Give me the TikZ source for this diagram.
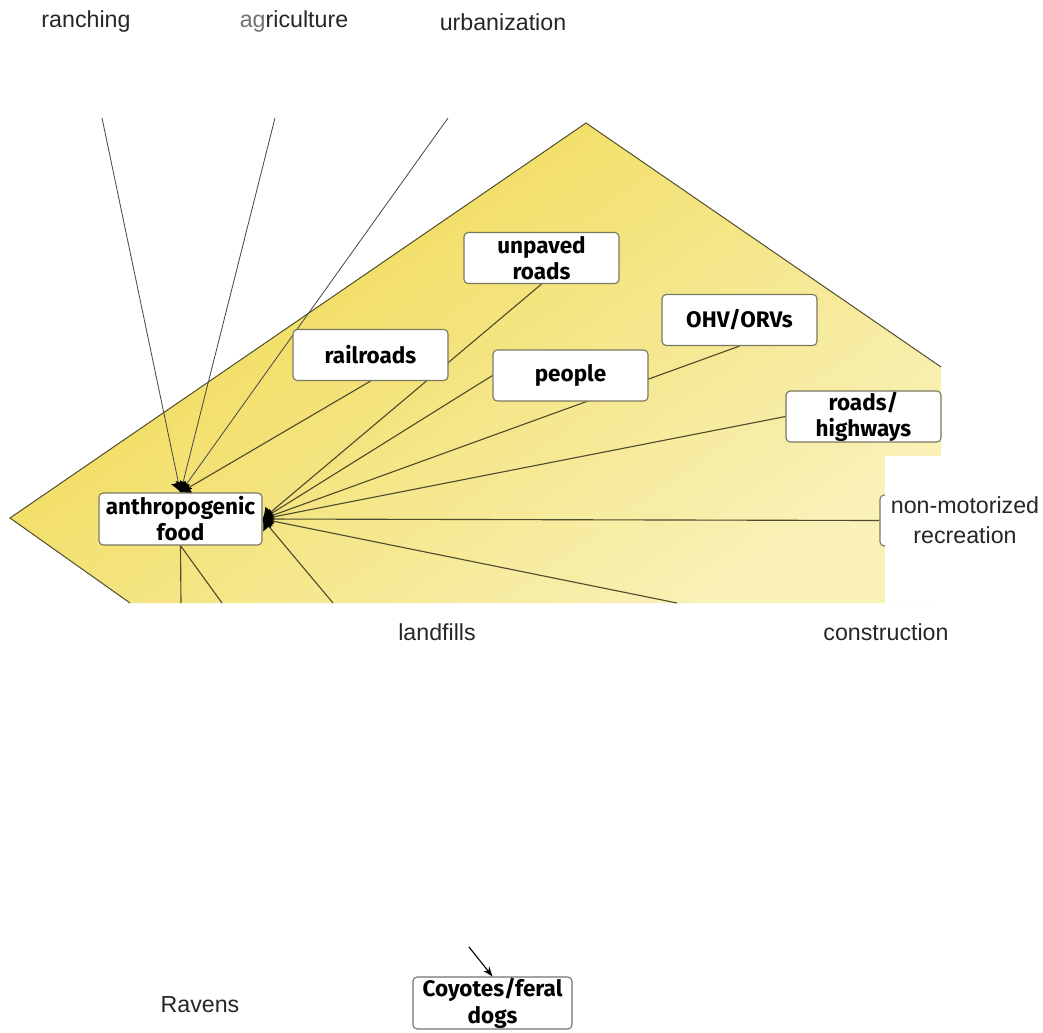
\documentclass[tikz,border=0pt]{standalone}
\usepackage{fontspec}
\setmainfont{Liberation Sans}
\newfontfamily\boxfont{Fira Sans}
\usetikzlibrary{arrows.meta, positioning, backgrounds}
\definecolor{mydeepyellow}{HTML}{F0D84A}
\definecolor{mypaleyellow}{HTML}{F9F1B8}
\definecolor{myolive}{HTML}{4F4D2C}
\definecolor{myboxline}{HTML}{7A7860}
\tikzset{
	boxnode/.style={
			rectangle,
			rounded corners=3pt,
			draw=myboxline,
			fill=white,
			thick,
			minimum width=3.875cm,
			minimum height=1.275cm,
			inner sep=0pt,
			align=center,
			font=\boxfont\bfseries\fontsize{16}{18.5}\selectfont
		},
	labelnode/.style={
			inner sep=0pt,
			align=center,
			text=black!85,
			font=\fontsize{16.5}{21}\selectfont
		},
	linkline/.style={
			draw=myolive,
			line width=0.8pt
		},
	linkarrow/.style={
			linkline,
			-{Latex[length=7pt,width=11pt,black]}
		}
}

\begin{document}
\begin{tikzpicture}[x=0.025cm, y=-0.025cm]
\useasboundingbox (0,0) rectangle (1043,1032);
    \node[boxnode, minimum width=4.075cm, minimum height=1.3cm] (food) at (180.5,519) {anthropogenic\\food};
    \node[boxnode] (rail) at (370.5,355) {railroads};
    \node[boxnode] (unpaved) at (541.5,258) {unpaved\\roads};
    \node[boxnode] (people) at (570.5,375.5) {people};
    \node[boxnode] (ohv) at (739.5,320) {OHV/ORVs};
    \node[boxnode] (roads) at (863.5,416.5) {roads/\\highways};
    \node[boxnode] (nonmot) at (957.5,520.5) {};

    \coordinate (ranchEnd) at (102,118);
    \coordinate (agriEnd) at (275,118);
    \coordinate (urbanEnd) at (448,118);
    \coordinate (downA) at (181,603);
    \coordinate (downB) at (222,603);
    \coordinate (landEnd) at (333,603);
    \coordinate (constEnd) at (677,603);

    \begin{scope}[on background layer]
    \shade[top color=mydeepyellow, bottom color=mypaleyellow, shading angle=35]
        (10,518) -- (586,123) -- (941,367) -- (941,603) -- (130,603) -- cycle;
    \draw[myolive, line width=0.7pt] (130,603) -- (10,518) -- (586,123) -- (941,367);

    \draw[linkarrow, draw=black!70, line width=0.6pt] (ranchEnd) -- (food.north);
    \draw[linkarrow, draw=black!70, line width=0.6pt] (agriEnd) -- (food.north);
    \draw[linkarrow, draw=black!70, line width=0.6pt] (urbanEnd) -- (food.north);
    \draw[linkarrow] (rail.south) -- (food.north);

    \draw[linkarrow] (unpaved.south) -- (food.east);
    \draw[linkarrow] (people.west) -- (food.east);
    \draw[linkarrow] (ohv.south) -- (food.east);
    \draw[linkarrow] (roads.west) -- (food.east);
    \draw[linkarrow] (nonmot.west) -- (food.east);
    \draw[linkarrow] (landEnd) -- (food.east);
    \draw[linkarrow] (constEnd) -- (food.east);

    \draw[linkline] (food.south) -- (downA);
    \draw[linkline] (food.south) -- (downB);
    \end{scope}

    \fill[white] (885,456) rectangle (1043,603);

    \node[labelnode] (ranching) at (86,22) {ranching};
    \node[labelnode] (agri) at (294,22) {\textcolor{black!55}{ag}riculture};
    \node[labelnode] (urban) at (503,22) {urbanization};
    \node[labelnode] (landfills) at (437,632) {landfills};
    \node[labelnode] (constr) at (886,632) {construction};
    \node[labelnode] (nonmottext) at (965,520) {non-motorized\\recreation};
    \node[labelnode] (ravens) at (200,1005) {Ravens};

    \node[boxnode, draw=black!55, minimum width=3.975cm, minimum height=1.3cm,
          font=\boxfont\bfseries\fontsize{16}{19}\selectfont] (coyotes) at (492.5,1003) {Coyotes/feral\\dogs};
    \coordinate (coyIn) at (469,947);
    \draw[thick, -{Stealth[length=7pt]}] (coyIn) -- (coyotes.north);
\end{tikzpicture}
\end{document}
